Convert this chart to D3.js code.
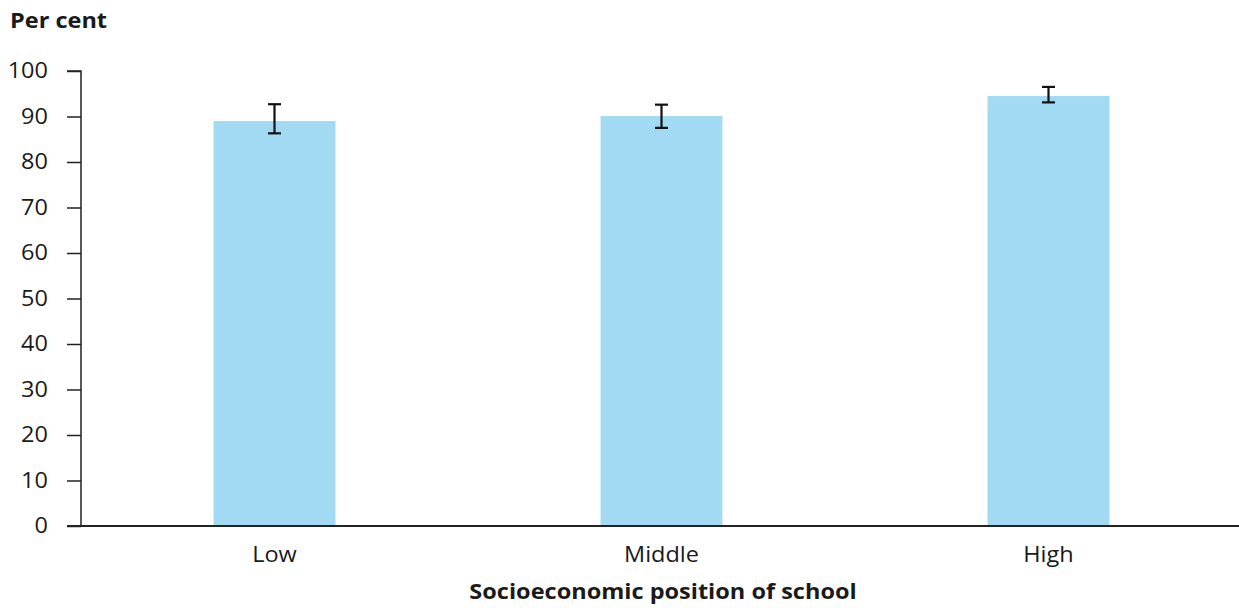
<!DOCTYPE html>
<html>
<head>
<meta charset="utf-8">
<script src="https://cdn.jsdelivr.net/npm/d3@7"></script>
<style>
  body { margin: 0; background: #fff; }
  svg text { font-family: "Open Sans", "Noto Sans", sans-serif; fill: #1a1a1a; }
</style>
</head>
<body>
<svg id="chart" width="1239" height="608"></svg>
<script>
const categories = ["Low", "Middle", "High"];
const values = [89.0, 90.1, 94.5];
const errLow = [86.3, 87.5, 93.1];
const errHigh = [92.7, 92.6, 96.5];
const yTicks = [0, 10, 20, 30, 40, 50, 60, 70, 80, 90, 100];

const svg = d3.select("#chart");
const mLeft = 81, mRight = 1242, mTop = 71, mBottom = 526;
const sx = 1.12; // horizontal text stretch

const x = d3.scaleBand().domain(categories).range([mLeft, mRight]).paddingInner(0.685).paddingOuter(0.3425);
const y = d3.scaleLinear().domain([0, 100]).range([mBottom, mTop]);

// bars
svg.selectAll("rect.bar").data(categories).enter().append("rect")
  .attr("class", "bar")
  .attr("x", d => x(d))
  .attr("width", x.bandwidth())
  .attr("y", (d, i) => y(values[i]))
  .attr("height", (d, i) => y(0) - y(values[i]))
  .attr("fill", "#a3daf3");

// error bars
const eg = svg.append("g").attr("stroke", "#111").attr("stroke-width", 2.2);
categories.forEach((c, i) => {
  const cx = x(c) + x.bandwidth() / 2;
  eg.append("line").attr("x1", cx).attr("x2", cx).attr("y1", y(errLow[i])).attr("y2", y(errHigh[i]));
  eg.append("line").attr("x1", cx - 6.5).attr("x2", cx + 6.5).attr("y1", y(errLow[i])).attr("y2", y(errLow[i]));
  eg.append("line").attr("x1", cx - 6.5).attr("x2", cx + 6.5).attr("y1", y(errHigh[i])).attr("y2", y(errHigh[i]));
});

// y axis
const yAxis = d3.axisLeft(y).tickValues(yTicks).tickSize(14).tickPadding(19);
const ya = svg.append("g").attr("transform", `translate(${mLeft},0)`).call(yAxis);
ya.select(".domain").attr("stroke", "#222").attr("stroke-width", 1.5).attr("d", `M-14,${mTop}H0V${mBottom}`);
ya.selectAll(".tick line").attr("stroke", "#222").attr("stroke-width", 1.5);
ya.selectAll(".tick text").style("font-size", "21px").attr("fill", "#1a1a1a")
  .attr("x", -33 / sx).attr("transform", `scale(${sx},1)`);

// x axis
const xAxis = d3.axisBottom(x).tickSize(0).tickPadding(21.5);
const xa = svg.append("g").attr("transform", `translate(0,${mBottom})`).call(xAxis);
xa.select(".domain").attr("stroke", "#222").attr("stroke-width", 2).attr("d", `M${mLeft - 14},0H1239`);
xa.selectAll(".tick text").style("font-size", "21px").attr("fill", "#1a1a1a")
  .attr("transform", `scale(${sx},1)`);

// titles
svg.append("text").attr("transform", `translate(10,28) scale(${sx},1)`)
  .style("font-size", "21px").style("font-weight", "bold").text("Per cent");
svg.append("text").attr("transform", `translate(663,599) scale(${sx},1)`).attr("text-anchor", "middle")
  .style("font-size", "21px").style("font-weight", "bold").text("Socioeconomic position of school");
</script>
</body>
</html>
